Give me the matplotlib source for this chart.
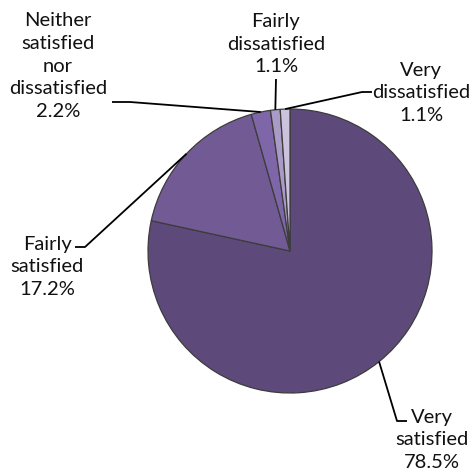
import numpy as np
import matplotlib
matplotlib.use("Agg")
import matplotlib.pyplot as plt

categories = ["Very\nsatisfied", "Fairly\nsatisfied", "Neither\nsatisfied\nnor\ndissatisfied",
              "Fairly\ndissatisfied", "Very\ndissatisfied"]
values = [78.5, 17.2, 2.2, 1.1, 1.1]
colors = ["#5E4A7A", "#725A94", "#7F66A8", "#A99BC5", "#CBC2DE"]

W, H = 474, 477
fig = plt.figure(figsize=(W / 100, H / 100), dpi=100)
ax = fig.add_axes([0, 0, 1, 1])

cx, cy, R = 290, H - 252, 142
wedges, _ = ax.pie(values, colors=colors, startangle=90, counterclock=False,
                   center=(cx, cy), radius=R, frame=True,
                   wedgeprops=dict(edgecolor="#3c3c3c", linewidth=0.9))
ax.set_xlim(0, W)
ax.set_ylim(0, H)
ax.set_aspect("equal")
ax.axis("off")

# label layout: (text center x, text center y (from top), elbow points (from top))
layout = [
    ((432, 440), [(397, 422), (407, 422)]),
    ((47, 267), [(85, 248), (75, 248)]),
    ((58, 66), [(130, 103), (112, 103)]),
    ((276, 44), [(276, 80)]),
    ((421, 93), [(362, 93), (372, 93)]),
]

font = dict(family=["Lato", "DejaVu Sans"], fontsize=14.5, color="#111111")
for w, cat, val, (tpos, elbows) in zip(wedges, categories, values, layout):
    mid = np.deg2rad((w.theta1 + w.theta2) / 2)
    sx, sy = cx + R * np.cos(mid), cy + R * np.sin(mid)
    xs = [sx] + [e[0] for e in elbows]
    ys = [sy] + [H - e[1] for e in elbows]
    ax.plot(xs, ys, color="black", lw=1.3, solid_capstyle="butt")
    ax.text(tpos[0], H - tpos[1], f"{cat}\n{val:.1f}%", ha="center", va="center",
            multialignment="center", linespacing=1.42, **font)

fig.savefig("out.png", dpi=100)
